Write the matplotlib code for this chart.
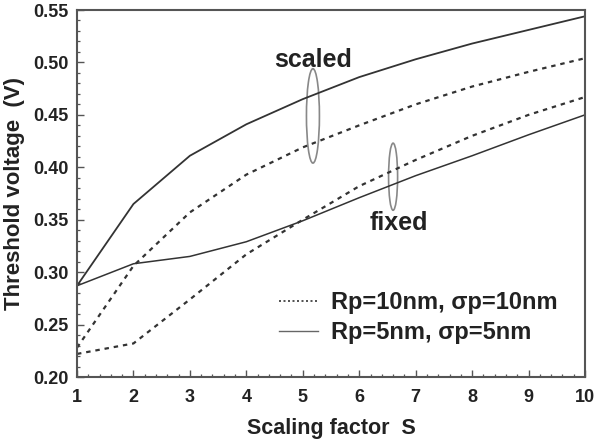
import matplotlib
matplotlib.use("Agg")
import matplotlib.pyplot as plt
from matplotlib.patches import Ellipse
from matplotlib.lines import Line2D
from matplotlib.ticker import MultipleLocator

plt.rcParams['font.family'] = ['Liberation Sans', 'DejaVu Sans']
plt.rcParams['font.weight'] = 'bold'

# Data
S = [1, 2, 3, 4, 5, 6, 7, 8, 9, 10]
scaled_5nm = [0.287, 0.365, 0.411, 0.441, 0.465, 0.486, 0.503, 0.518, 0.531, 0.544]
scaled_10nm = [0.228, 0.306, 0.357, 0.393, 0.419, 0.440, 0.460, 0.477, 0.491, 0.504]
fixed_5nm = [0.287, 0.308, 0.315, 0.329, 0.349, 0.371, 0.392, 0.411, 0.431, 0.450]
fixed_10nm = [0.222, 0.232, 0.274, 0.317, 0.350, 0.382, 0.407, 0.430, 0.450, 0.467]
legend_labels = ["Rp=10nm, σp=10nm", "Rp=5nm, σp=5nm"]

fig = plt.figure(figsize=(6.02, 4.48), dpi=100)
ax = fig.add_axes([77/602, 1-377/448, (585-77)/602, (377-10)/448])

line_col = '#333333'
dot_style = (0, (2, 2.2))
ax.plot(S, scaled_5nm, color=line_col, lw=1.3, ls='-')
ax.plot(S, fixed_5nm, color=line_col, lw=1.1, ls='-')
ax.plot(S, scaled_10nm, color=line_col, lw=1.6, ls=dot_style)
ax.plot(S, fixed_10nm, color=line_col, lw=1.6, ls=dot_style)

ax.set_xlim(1, 10)
ax.set_ylim(0.20, 0.55)
ax.xaxis.set_major_locator(MultipleLocator(1))
ax.xaxis.set_minor_locator(MultipleLocator(0.2))
ax.yaxis.set_major_locator(MultipleLocator(0.05))
ax.yaxis.set_minor_locator(MultipleLocator(0.01))
ax.yaxis.set_major_formatter(matplotlib.ticker.FormatStrFormatter('%.2f'))

ax.tick_params(which='both', direction='in', top=False, right=False, color='#555555')
ax.tick_params(which='major', length=5, width=1.0)
ax.tick_params(which='minor', length=2.5, width=0.9)
ax.tick_params(axis='y', which='major', labelsize=13, pad=6)
ax.tick_params(axis='x', which='major', labelsize=13, pad=9)
for lab in ax.get_xticklabels() + ax.get_yticklabels():
    lab.set_fontweight('bold')
    lab.set_color('#222222')
for sp in ax.spines.values():
    sp.set_color('#555555')
    sp.set_linewidth(1.5)

ax.set_xlabel('Scaling factor  S', fontsize=15.5, fontweight='bold', color='#222222', labelpad=8)
ax.set_ylabel('Threshold voltage  (V)', fontsize=16, fontweight='bold', color='#222222', labelpad=6)

# annotations
ax.text(5.19, 0.4956, 'scaled', fontsize=18, fontweight='bold', ha='center', va='baseline', color='#222222')
ax.text(6.71, 0.340, 'fixed', fontsize=18, fontweight='bold', ha='center', va='baseline', color='#222222')
ax.add_patch(Ellipse((5.18, 0.449), 0.23, 0.090, fill=False, edgecolor='#888888', lw=1.2))
ax.add_patch(Ellipse((6.60, 0.391), 0.16, 0.064, fill=False, edgecolor='#888888', lw=1.2))

handles = [Line2D([], [], color=line_col, lw=1.2, ls=(0, (1.2, 1.5))),
           Line2D([], [], color='#666666', lw=1.0, ls='-')]
leg = ax.legend(handles, legend_labels, loc='upper left', bbox_to_anchor=(279/602, 1-291/448),
                bbox_transform=fig.transFigure, frameon=False, fontsize=17,
                handlelength=1.65, handletextpad=0.55, labelspacing=0.3,
                borderpad=0, borderaxespad=0, prop={'weight': 'bold', 'size': 17})
for t in leg.get_texts():
    t.set_color('#222222')

fig.savefig('out.png', dpi=100)
